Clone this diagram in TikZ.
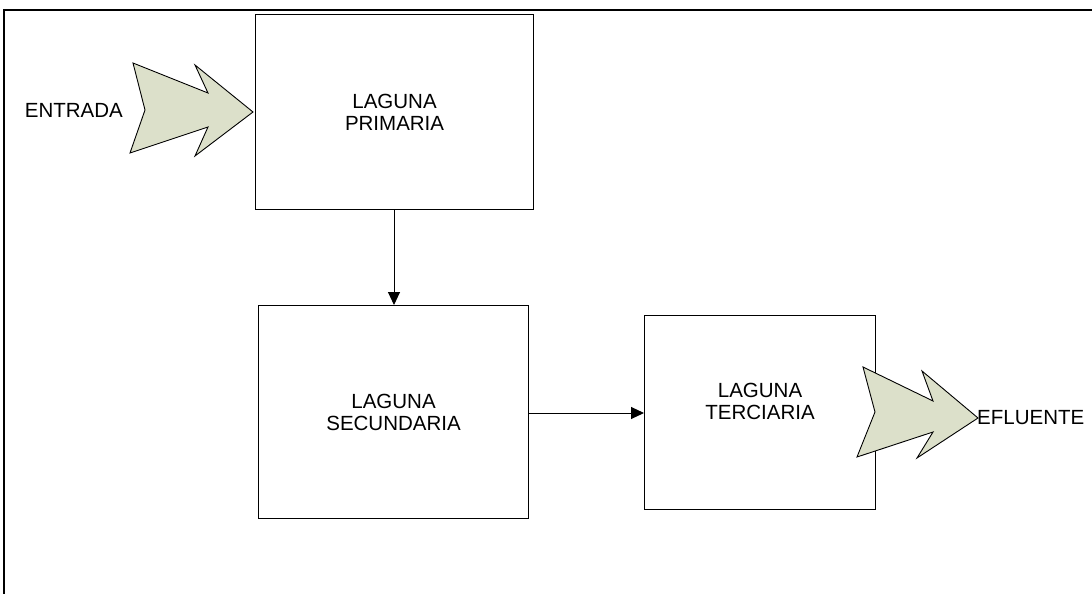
\documentclass[tikz,border=0pt]{standalone}
\usepackage{fontspec}
\setmainfont{Liberation Sans}
\usetikzlibrary{arrows.meta}
\definecolor{chevronfill}{RGB}{220,224,202}
\tikzset{
  lagoon/.style={draw=black, line width=1.1pt, fill=white, inner sep=0pt, anchor=north west},
  lbl/.style={font=\fontsize{20.5}{22}\selectfont, align=center, inner sep=0pt},
  flow/.style={line width=1pt, -{Triangle[length=13pt,width=12pt]}},
  chevron/.style={draw=black, line width=0.9pt, fill=chevronfill, line join=miter},
  frame/.style={line width=2pt}
}
\begin{document}
\begin{tikzpicture}[x=1pt,y=-1pt]
\useasboundingbox (0,0) rectangle (1092,594);
% outer frame, open on the right and at the bottom
\draw[frame] (4,594) -- (4,10) -- (1092,10);

% the three ponds
\node[lagoon, minimum width=278pt, minimum height=195pt] (prim) at (255,14) {};
\node[lagoon, minimum width=270pt, minimum height=213pt] (sec) at (258,305) {};
\node[lagoon, minimum width=231pt, minimum height=194pt] (ter) at (644,315) {};

\node[lbl] (tprim) at (prim.center) {LAGUNA\\PRIMARIA};
\node[lbl] (tsec) at (sec.center) {LAGUNA\\SECUNDARIA};
\node[lbl] (tter) at ([yshift=11pt]ter.center) {LAGUNA\\TERCIARIA};

% flow between ponds
\draw[flow] (prim.south -| 394,0) -- (sec.north -| 394,0);
\draw[flow] (sec.east |- 0,413) -- (ter.west |- 0,413);

% inlet chevron
\draw[chevron] (133,63) -- (208,93) -- (195,65) -- (253,112) -- (195,156)
  -- (208,127) -- (130,153) -- (145,110) -- cycle;
\node[lbl, anchor=east] (entrada) at (123,110) {ENTRADA};

% outlet chevron
\draw[chevron] (863,367) -- (933,401) -- (922,371) -- (978,418) -- (917,458)
  -- (933,432) -- (857,457) -- (875,412) -- cycle;
\node[lbl, anchor=west] (efluente) at (977,418) {EFLUENTE};
\end{tikzpicture}
\end{document}
